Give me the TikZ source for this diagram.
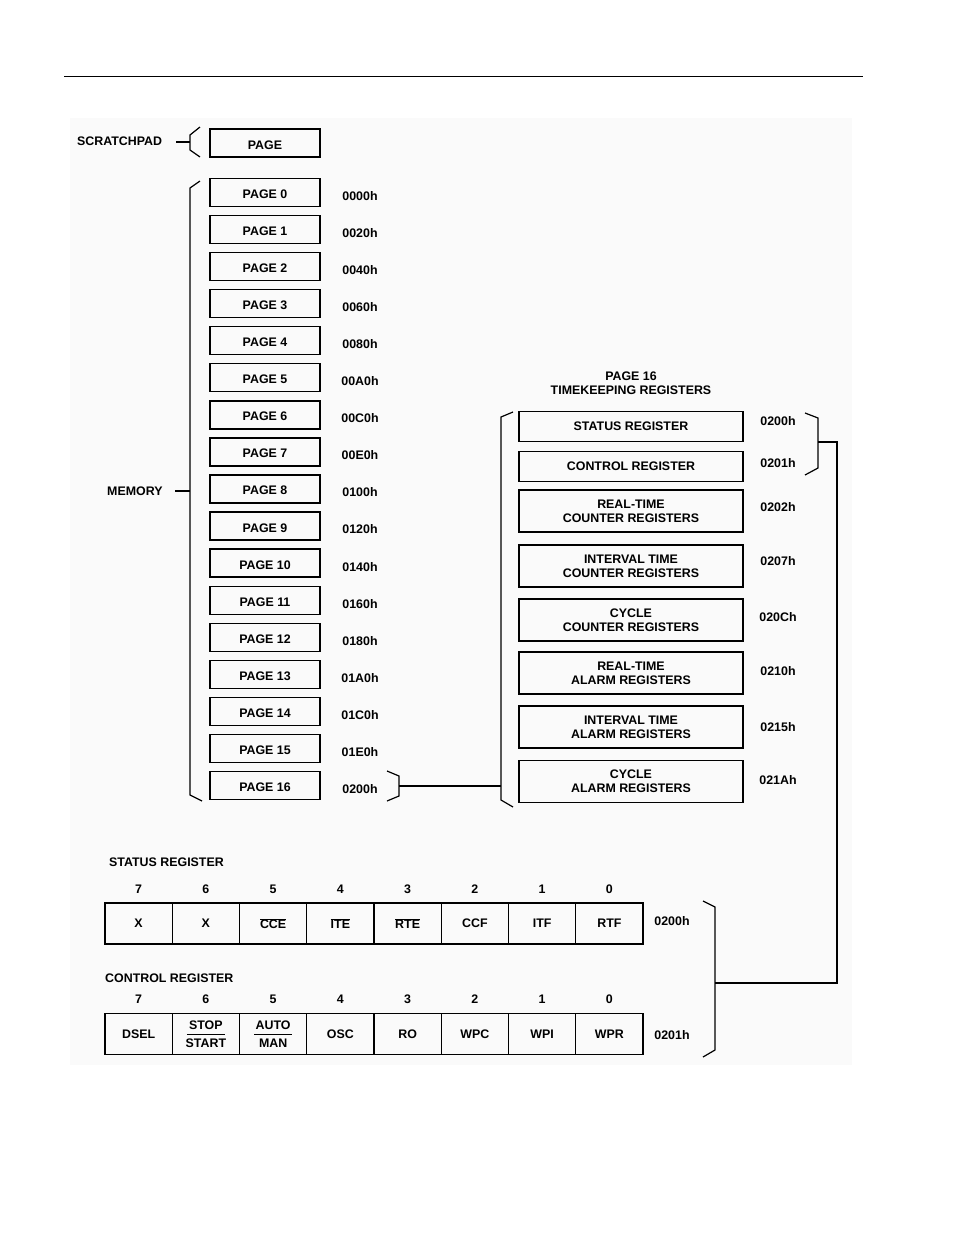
\documentclass[tikz,border=0pt]{standalone}
\usepackage{fontspec}
\setmainfont{Liberation Sans}
\newcommand\dlbl{\fontsize{12.4}{14}\selectfont\bfseries}
\begin{document}
\begin{tikzpicture}[x=1pt,y=-1pt,
  txt/.style={inner sep=0pt, font=\dlbl},
  pagebox/.style={draw, line width=1.3pt, minimum width=110pt, minimum height=28pt, inner sep=0pt, font=\dlbl, text height=12pt, text depth=0pt},
  regbox/.style={draw, line width=1.3pt, minimum width=224pt, inner sep=0pt, font=\dlbl, align=center},
  cell/.style={draw, line width=1.2pt, minimum width=67.25pt, minimum height=41pt, inner sep=0pt, font=\dlbl, align=center},
  brk/.style={line width=1.2pt, line join=miter},
  conn/.style={line width=1.2pt}]
\useasboundingbox (0,0) rectangle (954,1235);
\fill[black!2] (70,118) rectangle (852,1065);
\draw[line width=1pt] (64,76) -- (863,76);

% scratchpad
\node[txt, anchor=west] (scr) at (77,141) {SCRATCHPAD};
\node[pagebox] (sp) at (265,143) {PAGE};
\draw[brk] (200,127) -- (190,135) -- (190,150) -- (200,157);
\draw[conn] (176,142) -- (190,142);

% memory pages
\foreach \i/\a in {0/0000h,1/0020h,2/0040h,3/0060h,4/0080h,5/00A0h,6/00C0h,7/00E0h,8/0100h,9/0120h,10/0140h,11/0160h,12/0180h,13/01A0h,14/01C0h,15/01E0h,16/0200h}{
  \node[pagebox] (p\i) at (265,{192.5+37.06*\i}) {PAGE \i};
  \node[txt] (a\i) at (360,{196+37.06*\i}) {\a};
}
\node[txt, anchor=west] (mem) at (107,491) {MEMORY};
\draw[brk] (200,181) -- (190,188) -- (190,795) -- (202,801);
\draw[conn] (175,491) -- (190,491);

% page 16 bracket and link
\draw[brk] (387,771) -- (399,776) -- (399,796) -- (387,801);
\coordinate (b16) at (399,786);
\coordinate (tkl) at (501,786);
\draw[conn] (b16) -- (tkl);

% timekeeping registers
\node[txt, align=center] (t16) at (631,383) {PAGE 16\\TIMEKEEPING REGISTERS};
\draw[brk] (513,412) -- (501,417) -- (501,800) -- (513,807);
\node[regbox, minimum height=30pt] (r0) at (631,426.5) {STATUS REGISTER};
\node[regbox, minimum height=30pt] (r1) at (631,466.5) {CONTROL REGISTER};
\node[regbox, minimum height=42pt] (r2) at (631,511) {REAL-TIME\\COUNTER REGISTERS};
\node[regbox, minimum height=42pt] (r3) at (631,566) {INTERVAL TIME\\COUNTER REGISTERS};
\node[regbox, minimum height=42pt] (r4) at (631,620) {CYCLE\\COUNTER REGISTERS};
\node[regbox, minimum height=42pt] (r5) at (631,673) {REAL-TIME\\ALARM REGISTERS};
\node[regbox, minimum height=42pt] (r6) at (631,727) {INTERVAL TIME\\ALARM REGISTERS};
\node[regbox, minimum height=42pt] (r7) at (631,781.5) {CYCLE\\ALARM REGISTERS};
\foreach \k/\y/\a in {0/421/0200h,1/463/0201h,2/507/0202h,3/561/0207h,4/617/020Ch,5/671/0210h,6/727/0215h,7/780/021Ah}{
  \node[txt] (ra\k) at (778,\y) {\a};
}
\draw[brk] (805,413) -- (818,418) -- (818,468) -- (805,475);
\coordinate (sc) at (818,442);
\coordinate (turn) at (837,442);
\coordinate (rb) at (715,983);
\draw[conn] (sc) -- (turn) |- (rb);

% status register
\node[txt, anchor=west] (srt) at (109,862) {STATUS REGISTER};
\foreach \j/\t in {0/X,1/X,2/{$\overline{\hbox{\dlbl CCE}}$},3/{$\overline{\hbox{\dlbl ITE}}$},4/{$\overline{\hbox{\dlbl RTE}}$},5/CCF,6/ITF,7/RTF}{
  \pgfmathtruncatemacro\bit{7-\j}
  \node[cell] (s\j) at ({105+67.25*(\j+0.5)},923.5) {\t};
  \node[txt] (sn\j) at ({105+67.25*(\j+0.5)},889) {\bit};
}
\node[txt] (sa) at (672,921) {0200h};

% control register
\node[txt, anchor=west] (crt) at (105,978) {CONTROL REGISTER};
\foreach \j/\t in {0/DSEL,1/{STOP\\[3.5pt]START},2/{AUTO\\[3.5pt]MAN},3/OSC,4/RO,5/WPC,6/WPI,7/WPR}{
  \pgfmathtruncatemacro\bit{7-\j}
  \node[cell] (c\j) at ({105+67.25*(\j+0.5)},1034) {\t};
  \node[txt] (cn\j) at ({105+67.25*(\j+0.5)},999) {\bit};
}
\draw[line width=1pt] ([xshift=-19pt,yshift=-0.5pt]c1.center) -- ([xshift=19pt,yshift=-0.5pt]c1.center);
\draw[line width=1pt] ([xshift=-19pt,yshift=-0.5pt]c2.center) -- ([xshift=19pt,yshift=-0.5pt]c2.center);
\node[txt] (ca) at (672,1035) {0201h};
\draw[brk] (703,901) -- (715,907) -- (715,1050) -- (703,1057);
\end{tikzpicture}
\end{document}
